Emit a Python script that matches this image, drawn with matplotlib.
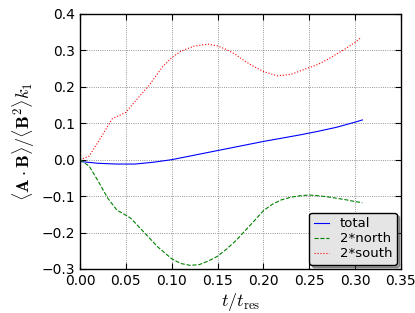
import matplotlib
matplotlib.use("Agg")
import matplotlib.pyplot as plt
import numpy as np

t_south = [0.0, 0.01, 0.02, 0.035, 0.05, 0.06, 0.075, 0.09, 0.1, 0.11, 0.125, 0.14, 0.15, 0.16, 0.17, 0.18, 0.19, 0.2, 0.215, 0.23, 0.245, 0.26, 0.27, 0.28, 0.29, 0.3, 0.307]
south = [0.0, 0.01, 0.05, 0.112, 0.13, 0.16, 0.203, 0.255, 0.28, 0.298, 0.312, 0.317, 0.312, 0.302, 0.288, 0.27, 0.255, 0.242, 0.23, 0.234, 0.248, 0.262, 0.275, 0.29, 0.305, 0.322, 0.336]

t_north = [0.0, 0.01, 0.02, 0.03, 0.04, 0.055, 0.07, 0.085, 0.1, 0.11, 0.12, 0.13, 0.14, 0.15, 0.16, 0.17, 0.18, 0.19, 0.2, 0.21, 0.22, 0.23, 0.24, 0.25, 0.26, 0.27, 0.28, 0.29, 0.3, 0.308]
north = [0.0, -0.018, -0.06, -0.105, -0.138, -0.16, -0.2, -0.24, -0.272, -0.285, -0.29, -0.288, -0.278, -0.265, -0.245, -0.222, -0.195, -0.168, -0.14, -0.122, -0.11, -0.103, -0.099, -0.097, -0.099, -0.102, -0.106, -0.11, -0.115, -0.118]

t_total = [0.0, 0.02, 0.04, 0.06, 0.08, 0.1, 0.12, 0.14, 0.16, 0.18, 0.2, 0.22, 0.24, 0.26, 0.28, 0.3, 0.308]
total = [-0.005, -0.01, -0.012, -0.012, -0.007, 0.0, 0.01, 0.02, 0.03, 0.04, 0.05, 0.059, 0.068, 0.078, 0.089, 0.103, 0.109]

xticks = [0.0, 0.05, 0.10, 0.15, 0.20, 0.25, 0.30, 0.35]
yticks = [-0.3, -0.2, -0.1, 0.0, 0.1, 0.2, 0.3, 0.4]

plt.rcParams['mathtext.fontset'] = 'cm'
fig = plt.figure(figsize=(4.15, 3.13), dpi=100)
ax = fig.add_axes([0.193, 0.1406, 0.773, 0.815])
ax.plot(t_total, total, color='blue', lw=0.8, label='total')
ax.plot(t_north, north, color='green', ls='--', lw=0.8, label='2*north')
ax.plot(t_south, south, color='red', ls=':', lw=0.8, label='2*south')
ax.set_xlim(0, 0.35)
ax.set_ylim(-0.3, 0.4)
ax.set_xticks(xticks)
ax.set_yticks(yticks)
ax.set_xticklabels([f"{v:.2f}" for v in xticks])
ax.set_yticklabels([f"{v:.1f}".replace('-', '\u2212') for v in yticks])
ax.tick_params(labelsize=10, direction='in', length=4, top=True, right=True)
ax.grid(True, color='0.45', ls=':', lw=0.6)
for s in ax.spines.values():
    s.set_linewidth(1.0)
ax.set_xlabel(r'$t/t_{\rm res}$', fontsize=13, labelpad=2)
ax.set_ylabel(r'$\langle\mathbf{A}\cdot\mathbf{B}\rangle/\langle\mathbf{B}^2\rangle k_1$', fontsize=13, labelpad=3)
leg = ax.legend(loc='lower right', fontsize=9.5, fancybox=True, shadow=True, framealpha=1,
                handlelength=1.15, handletextpad=0.8, borderpad=0.35, labelspacing=0.15,
                borderaxespad=0.3)
leg.get_frame().set_facecolor('#e5e5e5')
leg.get_frame().set_edgecolor('black')
fig.savefig('out.png', dpi=100)
